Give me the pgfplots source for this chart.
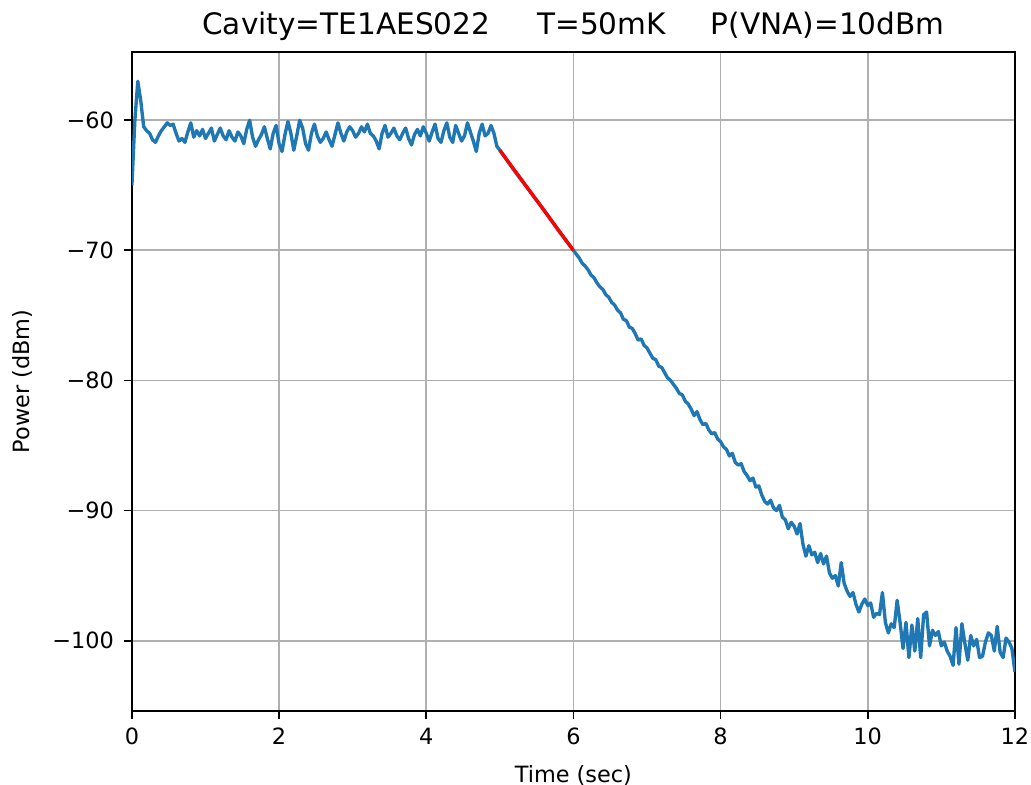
\documentclass[border=0pt]{standalone}
\usepackage{pgfplots}
\pgfplotsset{compat=1.18}
\usepackage{fontspec}
\setmainfont{DejaVu Sans}
\definecolor{mplblue}{HTML}{1F77B4}
\definecolor{gridgray}{HTML}{B0B0B0}
\begin{document}
\begin{tikzpicture}
\begin{axis}[
  scale only axis,
  width=394.2pt, height=294.2pt,
  xmin=0, xmax=12,
  ymin=-105.4, ymax=-54.75,
  xtick={0,2,4,6,8,10,12},
  ytick={-100,-90,-80,-70,-60},
  yticklabels={−100,−90,−80,−70,−60},
  /pgf/number format/assume math mode=true,
  tick label style={font=\fontsize{10}{12}\selectfont},
  xtick pos=left, ytick pos=left,
  tick align=outside,
  major tick length=3.5pt,
  every tick/.style={black, line width=0.8pt},
  axis line style={line width=0.8pt},
  grid=major,
  major grid style={gridgray, line width=0.8pt},
  xticklabel style={yshift=-0.5pt},
  yticklabel style={xshift=-1pt},
  every axis title shift=0pt,
  title={Cavity=TE1AES022\hspace{21pt}T=50mK\hspace{20pt}P(VNA)=10dBm},
  title style={at={(axis description cs:0.5,1.0258)}, anchor=base, inner sep=0pt, font=\fontsize{13.2}{15}\selectfont},
  xlabel={Time (sec)},
  ylabel={Power (dBm)},
  xlabel style={at={(axis description cs:0.5,-0.098)}, anchor=center, font=\fontsize{10}{12}\selectfont},
  ylabel style={at={(axis description cs:-0.1243,0.5)}, anchor=center, rotate=0, font=\fontsize{10}{12}\selectfont},
]
\addplot[mplblue, line width=1.5pt, line join=round] coordinates {
(0.00,-65.0)(0.04,-60.0)(0.08,-57.0)(0.12,-58.5)(0.16,-60.5)(0.20,-60.8)(0.24,-61.0)(0.28,-61.5)(0.32,-61.7)(0.36,-61.2)
(0.40,-60.8)(0.44,-60.5)(0.48,-60.2)(0.52,-60.4)(0.56,-60.3)(0.60,-61.0)(0.64,-61.6)(0.68,-61.4)(0.72,-61.7)(0.76,-60.9)
(0.80,-60.2)(0.84,-61.3)(0.88,-60.8)(0.92,-61.2)(0.96,-60.7)(1.00,-61.4)(1.04,-61.0)(1.08,-60.6)(1.12,-61.6)(1.16,-61.1)
(1.20,-60.6)(1.24,-61.2)(1.28,-61.5)(1.32,-60.8)(1.36,-61.3)(1.40,-61.6)(1.44,-60.9)(1.48,-61.2)(1.52,-61.8)(1.56,-60.7)
(1.60,-60.0)(1.64,-61.3)(1.68,-62.0)(1.72,-61.5)(1.76,-61.1)(1.80,-60.5)(1.84,-61.4)(1.88,-62.2)(1.92,-61.0)(1.96,-60.4)
(2.00,-61.8)(2.04,-62.4)(2.08,-61.1)(2.12,-60.1)(2.16,-61.0)(2.20,-62.3)(2.24,-61.2)(2.28,-60.0)(2.32,-60.6)(2.36,-61.8)
(2.40,-62.3)(2.44,-61.0)(2.48,-60.3)(2.52,-61.2)(2.56,-61.7)(2.60,-61.4)(2.64,-60.9)(2.68,-61.5)(2.72,-62.0)(2.76,-61.1)
(2.80,-60.2)(2.84,-61.0)(2.88,-61.6)(2.92,-60.9)(2.96,-60.5)(3.00,-60.8)(3.04,-61.3)(3.08,-61.0)(3.12,-60.5)(3.16,-60.9)
(3.20,-60.3)(3.24,-61.0)(3.28,-61.2)(3.32,-61.6)(3.36,-62.2)(3.40,-61.0)(3.44,-60.4)(3.48,-61.3)(3.52,-61.0)(3.56,-60.6)
(3.60,-61.2)(3.64,-61.5)(3.68,-61.0)(3.72,-60.6)(3.76,-61.4)(3.80,-61.9)(3.84,-61.1)(3.88,-60.7)(3.92,-61.2)(3.96,-60.5)
(4.00,-61.0)(4.04,-61.6)(4.08,-60.9)(4.12,-60.3)(4.16,-61.4)(4.20,-61.7)(4.24,-60.8)(4.28,-60.2)(4.32,-61.3)(4.36,-61.7)
(4.40,-60.4)(4.44,-61.0)(4.48,-61.6)(4.52,-61.2)(4.56,-60.2)(4.60,-60.9)(4.64,-61.6)(4.68,-62.4)(4.72,-61.0)(4.76,-60.3)
(4.80,-61.2)(4.84,-61.0)(4.88,-60.4)(4.92,-61.0)(4.96,-62.0)(5.00,-62.3)
(5.20,-63.9)(5.40,-65.4)(5.60,-66.9)(5.80,-68.5)
(6.00,-70.0)(6.04,-70.3)(6.08,-70.6)(6.12,-71.0)(6.16,-71.2)(6.20,-71.5)(6.24,-71.9)(6.28,-72.1)(6.32,-72.5)(6.36,-72.8)
(6.40,-73.0)(6.44,-73.4)(6.48,-73.6)(6.52,-74.0)(6.56,-74.2)(6.60,-74.6)(6.64,-74.8)(6.68,-75.3)(6.72,-75.4)(6.76,-75.9)
(6.80,-76.0)(6.84,-76.4)(6.88,-76.9)(6.92,-76.8)(6.96,-77.3)(7.00,-77.5)(7.04,-77.9)(7.08,-78.3)(7.12,-78.4)(7.16,-78.9)
(7.20,-79.0)(7.24,-79.4)(7.28,-79.8)(7.32,-80.0)(7.36,-80.3)(7.40,-80.6)(7.44,-81.0)(7.48,-81.1)(7.52,-81.6)(7.56,-81.8)
(7.60,-82.2)(7.64,-82.7)(7.68,-82.4)(7.72,-83.0)(7.76,-83.4)(7.80,-83.3)(7.84,-83.8)(7.88,-84.1)(7.92,-84.0)(7.96,-84.5)
(8.00,-84.7)(8.04,-85.1)(8.08,-85.3)(8.12,-85.8)(8.16,-85.6)(8.20,-86.3)(8.24,-86.5)(8.28,-86.4)(8.32,-87.0)(8.36,-87.3)
(8.40,-87.7)(8.44,-87.5)(8.48,-88.2)(8.52,-88.1)(8.56,-88.8)(8.60,-89.3)(8.64,-89.5)(8.68,-89.2)(8.72,-89.8)(8.76,-90.0)
(8.80,-89.6)(8.84,-90.5)(8.88,-90.7)(8.92,-91.4)(8.96,-90.9)(9.00,-91.2)(9.04,-91.8)(9.08,-91.0)(9.12,-92.6)(9.16,-93.5)
(9.20,-92.7)(9.24,-93.4)(9.28,-93.2)(9.32,-94.0)(9.36,-93.3)(9.40,-94.1)(9.44,-93.5)(9.48,-94.8)(9.52,-95.2)(9.56,-95.0)
(9.60,-95.8)(9.64,-94.0)(9.68,-95.6)(9.72,-96.2)(9.76,-96.6)(9.80,-96.3)(9.84,-97.2)(9.88,-97.8)(9.92,-97.2)(9.96,-96.8)
(10.00,-97.3)(10.04,-97.1)(10.08,-98.2)(10.12,-97.9)(10.16,-98.0)(10.20,-96.3)(10.24,-98.6)(10.28,-99.4)(10.32,-98.7)(10.36,-99.0)
(10.40,-96.9)(10.44,-98.6)(10.48,-100.6)(10.52,-98.6)(10.56,-101.3)(10.60,-98.8)(10.64,-100.8)(10.68,-98.3)(10.72,-101.3)(10.76,-98.0)
(10.80,-97.8)(10.84,-100.4)(10.88,-99.2)(10.92,-99.6)(10.96,-99.3)(11.00,-100.4)(11.04,-100.1)(11.08,-100.8)(11.12,-101.2)(11.16,-101.9)
(11.20,-99.0)(11.24,-101.8)(11.28,-98.7)(11.32,-100.2)(11.36,-101.5)(11.40,-99.6)(11.44,-100.4)(11.48,-99.9)(11.52,-101.3)(11.56,-101.2)
(11.60,-100.1)(11.64,-99.4)(11.68,-99.6)(11.72,-100.8)(11.76,-98.9)(11.80,-100.9)(11.84,-101.3)(11.88,-99.8)(11.92,-100.1)(11.96,-100.6)
(12.00,-102.4)
};
\addplot[red, line width=1.5pt] coordinates {(5.00,-62.3)(6.00,-70.0)};
\end{axis}
\path (current axis.south west) ++(-58.9pt,-33pt) coordinate (bbsw);
\path (current axis.north east) ++(7.2pt,23.2pt) coordinate (bbne);
\pgfresetboundingbox
\useasboundingbox (bbsw) rectangle (bbne);
\end{tikzpicture}
\end{document}
